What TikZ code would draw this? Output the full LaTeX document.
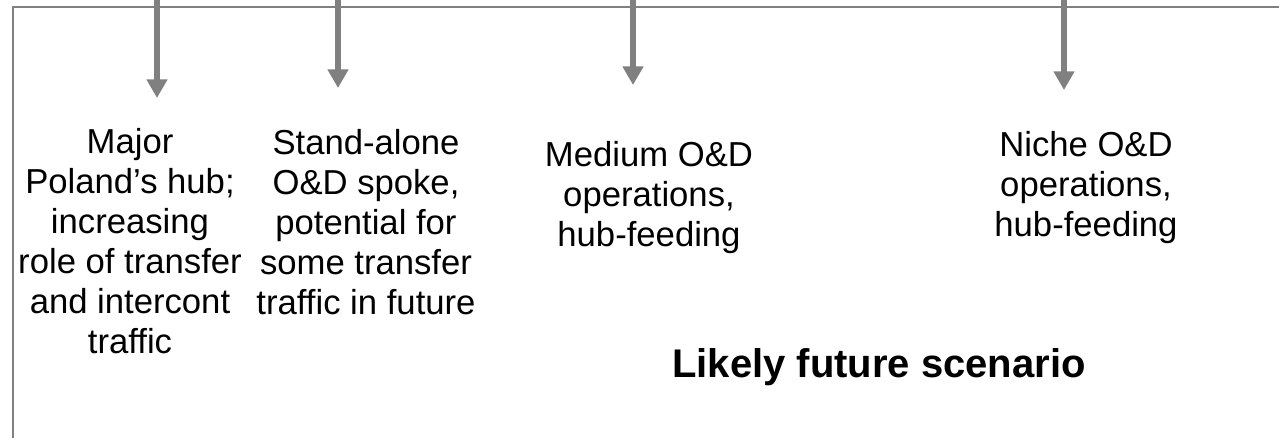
\documentclass[tikz,border=0pt]{standalone}
\usepackage{fontspec}
\setmainfont{Liberation Sans}
\usetikzlibrary{arrows.meta}
\definecolor{framegray}{RGB}{128,128,128}
\tikzset{
  frameline/.style={draw=framegray, line width=1.5pt},
  downarrow/.style={draw=framegray, line width=4.5pt, -{Triangle[width=15pt,length=14pt]}},
  label/.style={align=center, inner sep=0pt, font=\fontsize{26pt}{30pt}\selectfont},
  title/.style={inner sep=0pt, font=\fontsize{30pt}{36pt}\selectfont\bfseries}
}
\begin{document}
\begin{tikzpicture}[x=0.75pt,y=-0.75pt]
\useasboundingbox (0,0) rectangle (1279,438);
% frame
\coordinate (ftr) at (1279,7.5);
\coordinate (ftl) at (13,7.5);
\coordinate (fbl) at (13,438);
\draw[frameline] (ftr) -- (ftl) -- (fbl);
% arrows
\coordinate (s1) at (157,-5); \coordinate (t1) at (157,98);
\coordinate (s2) at (338,-5); \coordinate (t2) at (338,88);
\coordinate (s3) at (633,-5); \coordinate (t3) at (633,85);
\coordinate (s4) at (1064,-5); \coordinate (t4) at (1064,90);
\draw[downarrow] (s1) -- (t1);
\draw[downarrow] (s2) -- (t2);
\draw[downarrow] (s3) -- (t3);
\draw[downarrow] (s4) -- (t4);
% texts
\node[label] (c1) at (130,241.5) {Major\\Poland’s hub;\\increasing\\role of transfer\\and intercont\\traffic};
\node[label] (c2) at (366,222) {Stand-alone\\O\&D spoke,\\potential for\\some transfer\\traffic in future};
\node[label] (c3) at (649,197.5) {Medium O\&D\\operations,\\hub-feeding};
\node[label] (c4) at (1086,188) {Niche O\&D\\operations,\\hub-feeding};
\node[title] (t) at (879,367) {Likely future scenario};
\end{tikzpicture}
\end{document}
